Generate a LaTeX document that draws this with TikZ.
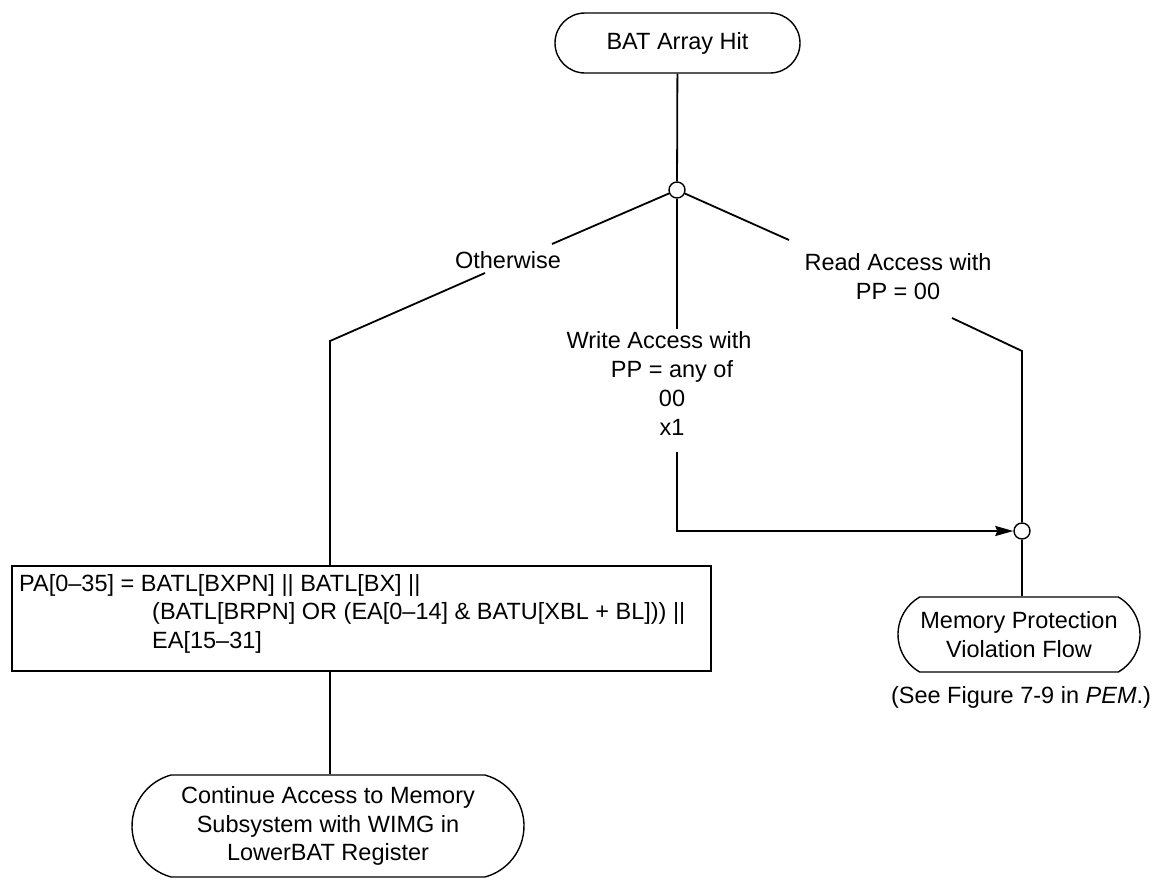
\documentclass[tikz,border=0pt]{standalone}
\usepackage{fontspec}
\setmainfont{Liberation Sans}
\usetikzlibrary{shapes.misc,arrows.meta}
\begin{document}
\begin{tikzpicture}[x=1pt,y=-1pt,
  every node/.style={font=\fontsize{23.5}{28.7}\selectfont},
  term/.style={draw, line width=1.4pt, rounded rectangle, inner sep=0pt, align=center},
  junc/.style={draw, line width=1.4pt, circle, minimum size=16pt, inner sep=0pt, fill=white},
  procbox/.style={draw, line width=2.2pt, rectangle, inner sep=0pt},
  lbl/.style={align=center, inner sep=0pt},
  flow/.style={line width=1.8pt},
  tip/.style={-{Stealth[length=18pt,width=10pt,inset=2pt]}}]
\useasboundingbox (0,0) rectangle (1170,879);

% nodes
\node[term, minimum width=245pt, minimum height=60pt] (bat) at (677.5,43) {BAT Array Hit};
\node[junc] (hub) at (677,190) {};
\node[junc] (mj) at (1022,531) {};
\node[procbox, minimum width=699pt, minimum height=105pt] (pa) at (361.5,618.5) {};
\node[anchor=west, align=left, inner sep=0pt] (patext) at (19,613.8)
  {PA[0–35] = BATL[BXPN] || BATL[BX] ||\\
   \hspace*{133pt}(BATL[BRPN] OR (EA[0–14] \& BATU[XBL + BL])) ||\\
   \hspace*{133pt}EA[15–31]};
\node[term, rounded rectangle arc length=150, minimum width=392pt, minimum height=102pt] (cont) at (328,826)
  {Continue Access to Memory\\Subsystem with WIMG in\\LowerBAT Register};
\node[term, rounded rectangle arc length=120, minimum width=242pt, minimum height=75pt] (mpv) at (1019,634.5)
  {Memory Protection\\Violation Flow};
\node[lbl] (see) at (1021,697) {(See Figure 7-9 in \textit{PEM}.)};

% labels
\node[lbl] (oth) at (508,260) {Otherwise};
\node[lbl] (wr) at (672,383.5) {\fontsize{23.5}{29}\selectfont Write Access with\hspace*{26pt}\\PP = any of\\00\\x1};
\node[lbl] (rd) at (898,276.5) {Read Access with\\PP = 00};

% coordinates
\coordinate (l1) at (552,244);
\coordinate (l2) at (485,273);
\coordinate (lk) at (330,341);
\coordinate (m1) at (677,329);
\coordinate (m2) at (677,452);
\coordinate (r1) at (789,240);
\coordinate (r2) at (952,318);
\coordinate (rk) at (1022,351);

% connectors
\draw[flow] (bat) -- (hub);
\draw[flow] (hub) -- (l1);
\draw[flow] (l2) -- (lk) -- (lk |- pa.north);
\draw[flow] (hub) -- (m1);
\draw[flow, tip] (m2) |- (mj);
\draw[flow] (hub) -- (r1);
\draw[flow] (r2) -- (rk) -- (mj);
\draw[flow] (mj) -- (mj |- mpv.north);
\draw[flow] (lk |- pa.south) -- (lk |- cont.north);
\end{tikzpicture}
\end{document}
